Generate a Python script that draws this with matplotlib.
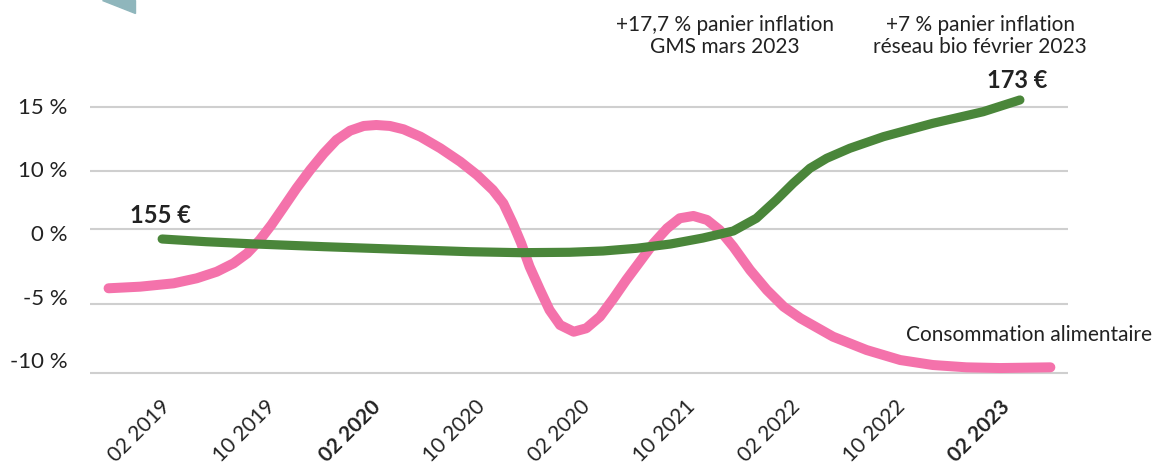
import matplotlib
matplotlib.use("Agg")
import matplotlib.pyplot as plt
from matplotlib.patches import Polygon

plt.rcParams["font.family"] = ["Lato", "DejaVu Sans"]

# x axis periods (as printed on the chart)
periods = ["02 2019", "10 2019", "02 2020", "10 2020", "02 2020",
           "10 2021", "02 2022", "10 2022", "02 2023"]
bold_periods = [2, 8]

# y axis labels and where the chart draws them / its grid lines
y_labels = ["15 %", "10 %", "0 %", "-5 %", "-10 %"]
y_label_pos = [15.4, 7.5, -0.5, -8.5, -16.4]
grid_pos = [15.2, 7.3, 0.0, -9.4, -18.0]

# Consommation alimentaire (pink curve)
conso_x = [-0.49, -0.19, 0.13, 0.35, 0.54, 0.70, 0.83, 0.95, 1.06, 1.17,
           1.30, 1.43, 1.56, 1.68, 1.81, 1.94, 2.06, 2.19, 2.32, 2.48,
           2.67, 2.86, 3.02, 3.17, 3.27, 3.36, 3.44, 3.52, 3.62, 3.71,
           3.81, 3.94, 4.06, 4.19, 4.32, 4.44, 4.57, 4.70, 4.83, 4.95,
           5.08, 5.21, 5.33, 5.46, 5.62, 5.78, 5.94, 6.10, 6.41, 6.73,
           7.05, 7.36, 7.68, 8.00, 8.48]
conso_y = [-7.41, -7.21, -6.79, -6.16, -5.34, -4.29, -3.04, -1.38, 0.50, 2.59,
           5.09, 7.38, 9.46, 11.13, 12.29, 12.88, 13.00, 12.88, 12.46, 11.54,
           10.09, 8.41, 6.75, 4.88, 3.21, 0.71, -1.79, -4.71, -7.63, -10.13,
           -12.00, -12.84, -12.41, -10.96, -8.66, -6.38, -4.09, -1.79, 0.09, 1.34,
           1.63, 1.13, -0.13, -2.21, -5.13, -7.63, -9.71, -11.16, -13.46, -15.13,
           -16.38, -17.00, -17.29, -17.38, -17.29]

# panier (green curve), 155 EUR -> 173 EUR
panier_x = [0.02, 0.44, 0.92, 1.56, 2.48, 2.95, 3.43, 3.90, 4.22, 4.54,
            4.86, 5.17, 5.46, 5.68, 5.87, 6.03, 6.19, 6.35, 6.57, 6.89,
            7.36, 7.84, 8.19]
panier_y = [-1.25, -1.59, -1.88, -2.21, -2.63, -2.84, -2.96, -2.91, -2.75, -2.41,
            -1.88, -1.13, -0.25, 1.34, 3.63, 5.71, 7.59, 8.84, 10.09, 11.54,
            13.21, 14.66, 16.13]

pink = "#f472ab"
green = "#4a863a"
text_col = "#222222"

fig = plt.figure(figsize=(11.6, 4.74), dpi=100)
W, H = 1160, 474
ax = fig.add_axes([90 / W, 1 - 380 / H, (1068 - 90) / W, (380 - 90) / H])

for g in grid_pos:
    ax.axhline(g, color="#cfcfcf", lw=1.5, zorder=1)

ax.plot(conso_x, conso_y, color=pink, lw=7.2, solid_capstyle="round",
        solid_joinstyle="round", zorder=3)
ax.plot(panier_x, panier_y, color=green, lw=6.6, solid_capstyle="round",
        solid_joinstyle="round", zorder=4)

ax.set_xlim(-0.667, 8.648)
ax.set_ylim(-18.875, 17.375)

ax.set_yticks(y_label_pos)
ax.set_yticklabels(y_labels, fontsize=16, color=text_col)
ax.set_xticks(range(len(periods)))
ax.set_xticklabels(periods, rotation=45, ha="right", rotation_mode="anchor",
                   fontsize=15, color=text_col)
for i, lab in enumerate(ax.get_xticklabels()):
    if i in bold_periods:
        lab.set_fontweight("bold")
ax.tick_params(axis="both", length=0)
ax.tick_params(axis="y", pad=16)
ax.tick_params(axis="x", pad=12)
for s in ax.spines.values():
    s.set_visible(False)

# value labels at both ends of the green curve
ax.annotate("155 €", xy=(panier_x[0], panier_y[0]), xytext=(-32, 16),
            textcoords="offset pixels", fontsize=17, fontweight="bold",
            color=text_col, ha="left", va="baseline")
ax.annotate("173 €", xy=(panier_x[-1], panier_y[-1]), xytext=(-33, 12),
            textcoords="offset pixels", fontsize=17, fontweight="bold",
            color=text_col, ha="left", va="baseline", annotation_clip=False)
ax.annotate("Consommation alimentaire", xy=(conso_x[-1], conso_y[-1]),
            xytext=(102, 32), textcoords="offset pixels", fontsize=15,
            color=text_col, ha="right", va="center", annotation_clip=False)

fig.text(725 / W, 1 - 36 / H, "+17,7 % panier inflation\nGMS mars 2023",
         ha="center", va="center", fontsize=15, color=text_col, linespacing=1.1)
fig.text(980 / W, 1 - 36 / H, "+7 % panier inflation\nréseau bio février 2023",
         ha="center", va="center", fontsize=15, color=text_col, linespacing=1.1)

# decorative corner shape
tri = Polygon([(102 / W, 1.0), (135 / W, 1.0), (135 / W, 1 - 13 / H)],
              closed=True, transform=fig.transFigure, color="#8fb6bc")
fig.patches.append(tri)

fig.savefig("out.png", dpi=100, facecolor="white")
